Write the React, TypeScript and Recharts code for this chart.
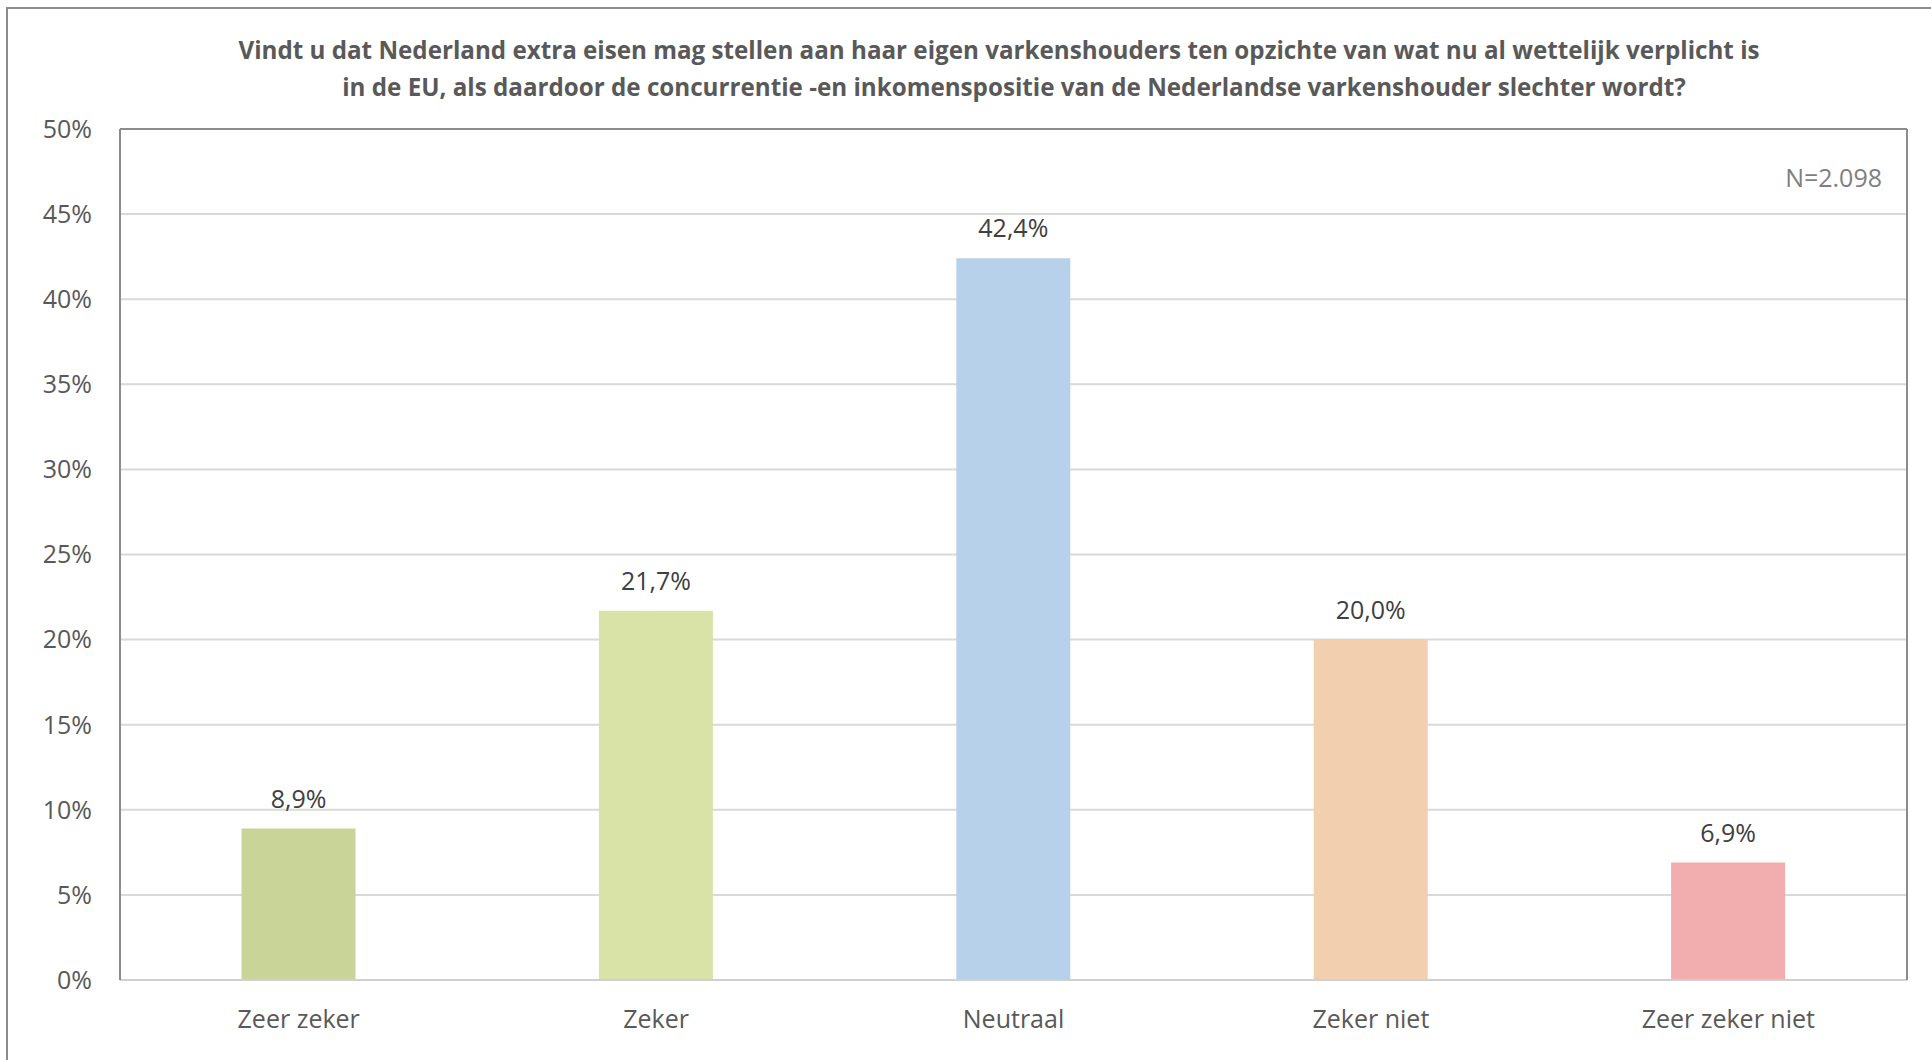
import React from 'react';
import { BarChart, Bar, XAxis, YAxis, CartesianGrid, Cell, LabelList, ReferenceLine } from 'recharts';

const categories = ['Zeer zeker', 'Zeker', 'Neutraal', 'Zeker niet', 'Zeer zeker niet'];
const shares = [8.9, 21.7, 42.4, 20.0, 6.9];
const barColors = ['#C9D598', '#D9E3A8', '#B8D1EA', '#F2CFAE', '#F2AEAE'];
const yTicks = [0, 5, 10, 15, 20, 25, 30, 35, 40, 45, 50];

const titleLines = [
    'Vindt u dat Nederland extra eisen mag stellen aan haar eigen varkenshouders ten opzichte van wat nu al wettelijk verplicht is',
    'in de EU, als daardoor de concurrentie -en inkomenspositie van de Nederlandse varkenshouder slechter wordt?',
];
const sampleNote = 'N=2.098';

const data = categories.map((name, i) => ({ name, value: shares[i] }));

const FONT = '"Open Sans", "Noto Sans", sans-serif';
const pct = (v: number) => `${v.toFixed(1).replace('.', ',')}%`;

export default function App() {
    return (
        <div style={{ position: 'absolute', left: 0, top: 0, width: 1931, height: 1060, overflow: 'hidden', background: '#fff', fontFamily: FONT }}>

            {/* outer frame, runs off the right and bottom edge */}
            <div style={{ position: 'absolute', left: 6, top: 7, width: 2000, height: 1100, border: '2px solid #8c8c8c' }} />

            {/* Title (second line sits a little right of centre in the original) */}
            <div style={{ position: 'absolute', left: 0, top: 31, width: 1998, textAlign: 'center', color: '#595959', fontWeight: 700, fontSize: 24.2, lineHeight: '37px' }}>
                <div>{titleLines[0]}</div>
                <div style={{ paddingLeft: 30 }}>{titleLines[1]}</div>
            </div>

            <div style={{ position: 'absolute', left: 0, top: 0 }}>
                <BarChart width={1931} height={1060} data={data} margin={{ top: 129, right: 22, left: 0, bottom: 0 }} barCategoryGap="34%">
                    <CartesianGrid vertical={false} stroke="#d9d9d9" strokeWidth={2} />
                    <XAxis
                        dataKey="name"
                        height={80}
                        tickLine={false}
                        tickSize={0}
                        tickMargin={30}
                        axisLine={{ stroke: '#d0d0d0', strokeWidth: 2 }}
                        tick={{ fill: '#595959', fontSize: 25, fontFamily: FONT }}
                        interval={0}
                    />
                    <YAxis
                        width={120}
                        domain={[0, 50]}
                        ticks={yTicks}
                        tickFormatter={(v) => `${v}%`}
                        tickLine={false}
                        tickSize={0}
                        tickMargin={28}
                        axisLine={{ stroke: '#8c8c8c', strokeWidth: 2 }}
                        tick={{ fill: '#595959', fontSize: 25, fontFamily: FONT }}
                    />
                    <YAxis yAxisId="right" orientation="right" width={2} domain={[0, 50]} ticks={yTicks} tick={false} tickLine={false} axisLine={{ stroke: '#8c8c8c', strokeWidth: 2 }} />
                    <ReferenceLine y={50} stroke="#8c8c8c" strokeWidth={2} />
                    <Bar dataKey="value" isAnimationActive={false}>
                        {data.map((d, i) => <Cell key={d.name} fill={barColors[i]} />)}
                        <LabelList dataKey="value" position="top" offset={21} formatter={(v: any) => pct(Number(v))} fill="#404040" fontSize={25} fontFamily={FONT} />
                    </Bar>
                </BarChart>
            </div>

            {/* sample size */}
            <div style={{ position: 'absolute', right: 1931 - 1882, top: 160, color: '#7f7f7f', fontSize: 25, lineHeight: '34px' }}>
                {sampleNote}
            </div>
        </div>
    );
}
